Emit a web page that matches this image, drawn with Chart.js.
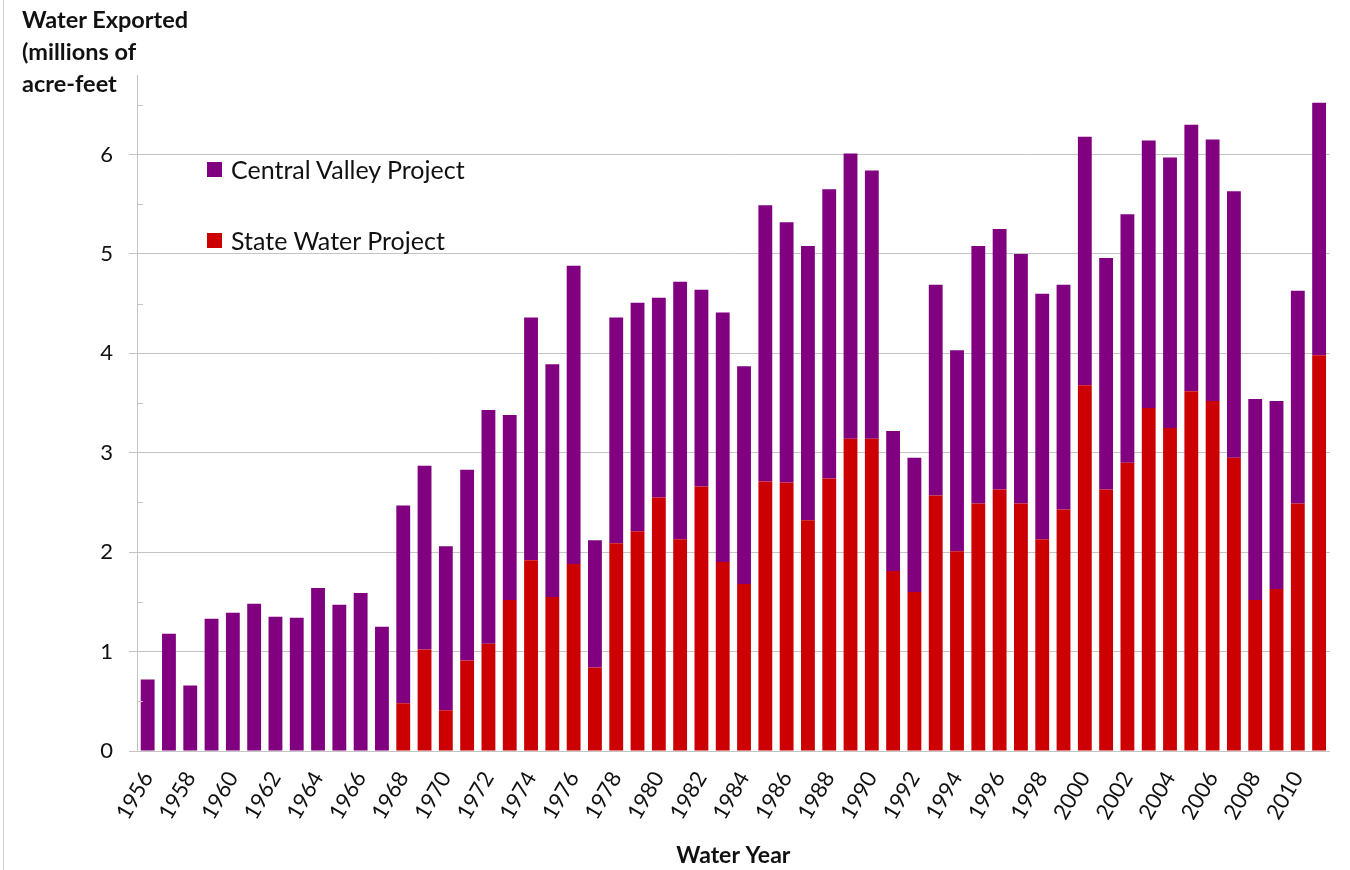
<!DOCTYPE html>
<html>
<head>
<meta charset="utf-8">
<script src="https://cdn.jsdelivr.net/npm/chart.js@4"></script>
<style>
  body { margin: 0; background: #fff; }
  #wrap { position: relative; width: 1350px; height: 870px; font-family: Lato, "Open Sans", sans-serif; }
  #edge { position: absolute; left: 3px; top: 0; width: 1px; height: 870px; background: #d0d0d0; }
  #ytitle { position: absolute; left: 22px; top: 3px; font-weight: bold; font-size: 23.5px; line-height: 32px; color: #111; }
  .leg { position: absolute; left: 207px; font-size: 25px; color: #111; display: flex; align-items: center; }
  .leg span { display: inline-block; width: 15px; height: 15px; margin-right: 9px; }
</style>
</head>
<body>
<div id="wrap">
  <div id="edge"></div>
  <canvas id="exportChart" width="1350" height="870"></canvas>
  <div id="ytitle">Water Exported<br>(millions of<br>acre-feet</div>
  <div class="leg" style="top:154px"><span style="background:#800080"></span>Central Valley Project</div>
  <div class="leg" style="top:225px"><span style="background:#cc0000"></span>State Water Project</div>
</div>
<script>
// Water exports by year, millions of acre-feet
const years = [];
for (let y = 1956; y <= 2011; y++) years.push(String(y));

// State Water Project (bottom of each bar)
const swp = [0, 0, 0, 0, 0, 0, 0, 0, 0, 0, 0, 0,
  0.48, 1.02, 0.41, 0.91, 1.08, 1.52, 1.92, 1.55, 1.88, 0.84,
  2.09, 2.21, 2.55, 2.13, 2.66, 1.90, 1.68, 2.71, 2.70, 2.32,
  2.74, 3.14, 3.14, 1.81, 1.60, 2.57, 2.01, 2.49, 2.63, 2.49,
  2.13, 2.43, 3.68, 2.63, 2.90, 3.45, 3.25, 3.62, 3.52, 2.95,
  1.52, 1.63, 2.49, 3.98];

// Central Valley Project (stacked on top)
const cvp = [0.72, 1.18, 0.66, 1.33, 1.39, 1.48, 1.35, 1.34, 1.64, 1.47, 1.59, 1.25,
  1.99, 1.85, 1.65, 1.92, 2.35, 1.86, 2.44, 2.34, 3.00, 1.28,
  2.27, 2.30, 2.01, 2.59, 1.98, 2.51, 2.19, 2.78, 2.62, 2.76,
  2.91, 2.87, 2.70, 1.41, 1.35, 2.12, 2.02, 2.59, 2.62, 2.51,
  2.47, 2.26, 2.50, 2.33, 2.50, 2.69, 2.72, 2.68, 2.63, 2.68,
  2.02, 1.89, 2.14, 2.54];

const yTicks = [0, 1, 2, 3, 4, 5, 6];
const minorTicks = [0.5, 1.5, 2.5, 3.5, 4.5, 5.5, 6.5];

const lineGray = '#c4c4c4';

// small inward ticks at the half units
const minorTickPlugin = {
  id: 'minorTicks',
  afterDraw(chart) {
    const s = chart.scales.y;
    const ctx = chart.ctx;
    ctx.save();
    ctx.strokeStyle = lineGray;
    ctx.lineWidth = 1;
    minorTicks.forEach(v => {
      const py = Math.round(s.getPixelForValue(v)) + 0.5;
      ctx.beginPath();
      ctx.moveTo(s.right, py);
      ctx.lineTo(s.right + 6, py);
      ctx.stroke();
    });
    ctx.restore();
  }
};

const ctx = document.getElementById('exportChart').getContext('2d');
const exportChart = new Chart(ctx, {
  type: 'bar',
  data: {
    labels: years,
    datasets: [{
      label: 'State Water Project',
      data: swp,
      backgroundColor: '#cc0000',
      barPercentage: 0.65,
      categoryPercentage: 1.0
    }, {
      label: 'Central Valley Project',
      data: cvp,
      backgroundColor: '#800080',
      barPercentage: 0.65,
      categoryPercentage: 1.0
    }]
  },
  options: {
    responsive: false,
    animation: false,
    layout: { padding: { top: 75, right: 3, left: 0, bottom: 0 } },
    plugins: {
      legend: { display: false },
      tooltip: { enabled: false }
    },
    scales: {
      x: {
        stacked: true,
        afterFit: s => { s.height = 119; },
        grid: { display: false },
        border: { display: true, color: lineGray, width: 1 },
        ticks: {
          autoSkip: false,
          maxRotation: 60,
          minRotation: 60,
          padding: 8,
          color: '#111',
          font: { family: 'Lato', size: 22 },
          callback: (v, i) => (i % 2 === 0 ? years[i] : '')
        },
        title: {
          display: true,
          text: 'Water Year',
          color: '#111',
          font: { family: 'Lato', size: 23, weight: 'bold' },
          padding: { top: 0, bottom: 1 }
        }
      },
      y: {
        stacked: true,
        min: 0,
        max: 6.8,
        afterFit: s => { s.width = 137; },
        afterBuildTicks: s => { s.ticks = yTicks.map(v => ({ value: v })); },
        grid: { color: lineGray, tickColor: lineGray, tickLength: 8, drawTicks: true },
        border: { display: true, color: lineGray, width: 1 },
        ticks: {
          padding: 16,
          color: '#111',
          font: { family: 'Lato', size: 22 }
        }
      }
    }
  },
  plugins: [minorTickPlugin]
});
</script>
</body>
</html>
